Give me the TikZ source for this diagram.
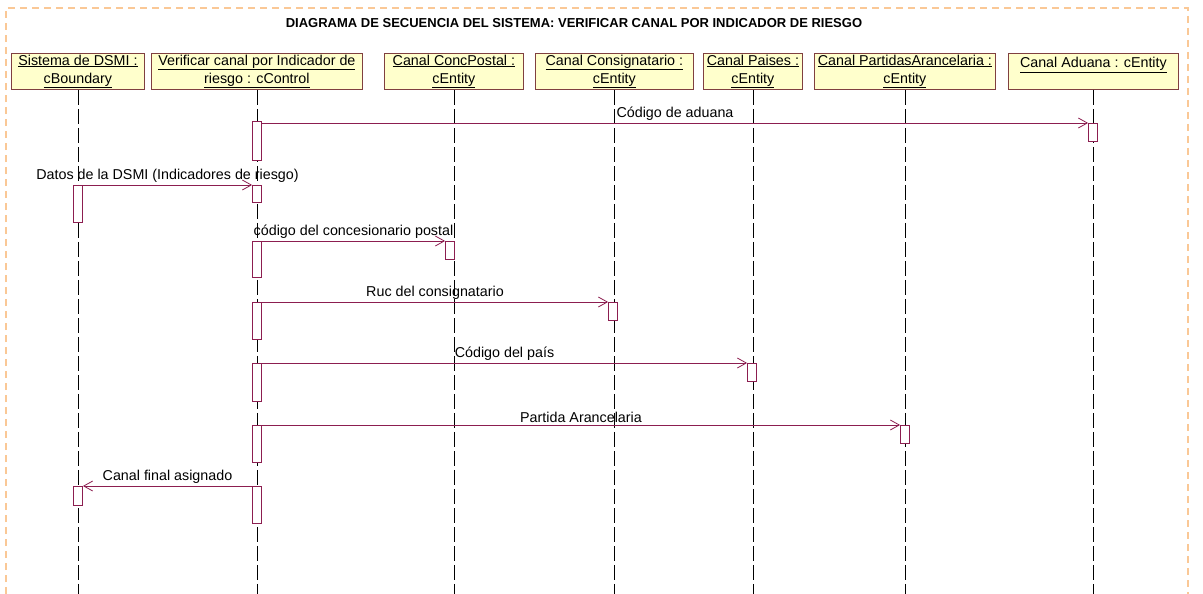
\documentclass[tikz,border=0pt]{standalone}
\usepackage{fontspec}
\setmainfont{Liberation Sans}
\usepackage{tikz}
\usetikzlibrary{arrows.meta}

\definecolor{umlline}{RGB}{140,30,80}
\definecolor{umlbox}{RGB}{128,64,64}
\definecolor{umlfill}{RGB}{255,255,204}
\definecolor{frameorange}{RGB}{250,200,150}

\tikzset{
  objbox/.style={draw=umlbox, fill=umlfill, line width=0.8pt, anchor=north west,
    minimum height=36pt, inner sep=0pt, align=center, font=\fontsize{14.3}{18}\selectfont},
  lifeline/.style={black, line width=0.8pt, dash pattern=on 15pt off 4pt},
  act/.style={draw=umlline, fill=white, line width=0.8pt, minimum width=9pt,
    inner sep=0pt, anchor=north},
  msg/.style={draw=umlline, line width=0.8pt, -{Straight Barb[length=9pt,width=10pt]}},
  msglabel/.style={midway, above, inner sep=2pt, font=\fontsize{14.3}{16}\selectfont}
}

\begin{document}
\begin{tikzpicture}[x=1pt,y=-1pt]
    \useasboundingbox (0,0) rectangle (1203,594);

    % frame and title
    \draw [frameorange, line width=1.2pt, dash pattern=on 7pt off 5pt]
      (6,594) -- (6,8) -- (1188,8) -- (1188,594);
    \node (title) at (574,23) {\fontsize{13}{15}\selectfont\bfseries
      DIAGRAMA DE SECUENCIA DEL SISTEMA: VERIFICAR CANAL POR INDICADOR DE RIESGO};

    % objects
    \node [objbox, minimum width=133pt] (sis) at (11,53)
      {\underline{Sistema de DSMI :}\\\underline{cBoundary}};
    \node [objbox, minimum width=211pt] (ver) at (151,53)
      {\underline{Verificar canal por Indicador de}\\\underline{riesgo : cControl}};
    \node [objbox, minimum width=139pt] (post) at (384,53)
      {\underline{Canal ConcPostal :}\\\underline{cEntity}};
    \node [objbox, minimum width=158pt] (cons) at (535,53)
      {\underline{Canal Consignatario :}\\\underline{cEntity}};
    \node [objbox, minimum width=99pt] (pais) at (703,53)
      {\underline{Canal Paises :}\\\underline{cEntity}};
    \node [objbox, minimum width=181pt] (part) at (814,53)
      {\underline{Canal PartidasArancelaria :}\\\underline{cEntity}};
    \node [objbox, minimum width=170pt] (adu) at (1008,53)
      {\underline{Canal Aduana : cEntity}\\\mbox{}};

    % lifelines
    \foreach \n in {sis,ver,post,cons,pais,part,adu}
      \draw [lifeline] (\n.south) -- (\n.south |- 0,594);

    % activations
    \node [act, minimum height=39pt] (verA) at (257,121) {};
    \node [act, minimum height=18pt] (aduA) at (1093,123) {};
    \node [act, minimum height=37pt] (sisA) at (78,185) {};
    \node [act, minimum height=17pt] (verB) at (257,185) {};
    \node [act, minimum height=36pt] (verC) at (257,241) {};
    \node [act, minimum height=18pt] (postA) at (450,241) {};
    \node [act, minimum height=37pt] (verD) at (257,302) {};
    \node [act, minimum height=18pt] (consA) at (613,302) {};
    \node [act, minimum height=38pt] (verE) at (257,363) {};
    \node [act, minimum height=18pt] (paisA) at (752,363) {};
    \node [act, minimum height=37pt] (verF) at (257,425) {};
    \node [act, minimum height=18pt] (partA) at (905,425) {};
    \node [act, minimum height=37pt] (verG) at (257,486) {};
    \node [act, minimum height=19pt] (sisB) at (78,486) {};

    % messages
    \draw [msg] (verA.north east) ++(0,2) -- (aduA.north west)
      node [msglabel] {Código de aduana};
    \draw [msg] (sisA.north east) -- (verB.north west)
      node [msglabel] {Datos de la DSMI (Indicadores de riesgo)};
    \draw [msg] (verC.north east) -- (postA.north west)
      node [msglabel] {código del concesionario postal};
    \draw [msg] (verD.north east) -- (consA.north west)
      node [msglabel] {Ruc del consignatario};
    \draw [msg] (verE.north east) -- (paisA.north west)
      node [msglabel] {Código del país};
    \draw [msg] (verF.north east) -- (partA.north west)
      node [msglabel] {Partida Arancelaria};
    \draw [msg] (verG.north west) -- (sisB.north east)
      node [msglabel] {Canal final asignado};
\end{tikzpicture}
\end{document}
